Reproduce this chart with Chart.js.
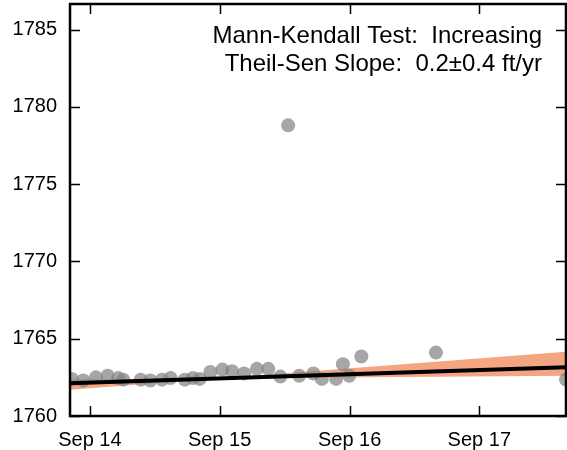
<!DOCTYPE html>
<html>
<head>
<meta charset="utf-8">
<script src="https://cdn.jsdelivr.net/npm/chart.js@4"></script>
<style>
  html, body { margin: 0; padding: 0; background: #fff; }
  #wrap { width: 567px; height: 450px; }
</style>
</head>
<body>
<div id="wrap"><canvas id="myChart" width="567" height="450"></canvas></div>
<script>
// observed water levels (ft)
const obsDates = ["2014-07-12", "2014-08-13", "2014-09-18", "2014-10-21", "2014-11-20", "2014-12-04",
  "2015-01-22", "2015-02-18", "2015-03-23", "2015-04-16", "2015-05-26", "2015-06-18", "2015-07-07",
  "2015-08-06", "2015-09-09", "2015-10-06", "2015-11-09", "2015-12-15", "2016-01-16", "2016-02-19",
  "2016-03-12", "2016-04-12", "2016-05-22", "2016-06-15", "2016-07-25", "2016-08-13", "2016-08-31",
  "2016-10-04", "2017-05-02", "2018-05-03"];
const obsLevels = [1762.4, 1762.3, 1762.5, 1762.6, 1762.45, 1762.35,
  1762.35, 1762.3, 1762.35, 1762.45, 1762.35, 1762.45, 1762.4,
  1762.85, 1763.0, 1762.9, 1762.75, 1763.05, 1763.05, 1762.55,
  1778.8, 1762.6, 1762.75, 1762.4, 1762.4, 1763.35, 1762.6,
  1763.85, 1764.1, 1762.35];

// theil-sen line and its confidence band
const trendDates = ["2014-07-07", "2018-05-03"];
const trendLevels = [1762.12, 1763.16];
const bandLow = [1762.36, 1762.6];
const bandHigh = [1761.7, 1764.15];

// axes
const xTickDates = ["2014-09-01", "2015-09-01", "2016-09-01", "2017-09-01"];
const xTickLabels = ["Sep 14", "Sep 15", "Sep 16", "Sep 17"];
const yTicks = [1760, 1765, 1770, 1775, 1780, 1785];
const xRange = ["2014-07-07", "2018-05-03"];
const yRange = [1760, 1786.65];

const noteLines = ["Mann-Kendall Test:  Increasing", "Theil-Sen Slope:  0.2\u00b10.4 ft/yr"];

function day(s) {
  const p = s.split("-");
  return Date.UTC(+p[0], +p[1] - 1, +p[2]) / 86400000;
}
function pts(dates, vals) {
  return dates.map((d, i) => ({ x: day(d), y: vals[i] }));
}

const FONT = "'Liberation Sans', Arial, sans-serif";

// frame, inward ticks and the text box
const framePlugin = {
  id: "frame",
  afterDatasetsDraw(chart) {
    const ctx = chart.ctx;
    const a = chart.chartArea;
    const xs = chart.scales.x, ys = chart.scales.y;
    ctx.save();
    ctx.strokeStyle = "#000";
    ctx.lineWidth = 1.5;
    ctx.beginPath();
    xTickDates.forEach(d => {
      const px = Math.round(xs.getPixelForValue(day(d))) + 0.5;
      ctx.moveTo(px, a.bottom); ctx.lineTo(px, a.bottom - 10);
      ctx.moveTo(px, a.top); ctx.lineTo(px, a.top + 10);
    });
    yTicks.forEach(v => {
      const py = Math.round(ys.getPixelForValue(v)) + 0.5;
      ctx.moveTo(a.left, py); ctx.lineTo(a.left + 10, py);
      ctx.moveTo(a.right, py); ctx.lineTo(a.right - 10, py);
    });
    ctx.stroke();
    ctx.lineWidth = 2.5;
    ctx.strokeRect(a.left, a.top, a.right - a.left, a.bottom - a.top);

    ctx.fillStyle = "#000";
    ctx.font = "24px " + FONT;
    ctx.textAlign = "right";
    ctx.textBaseline = "alphabetic";
    ctx.fillText(noteLines[0], 542, 42.5);
    ctx.fillText(noteLines[1], 542, 70.5);
    ctx.restore();
  }
};

const ctx = document.getElementById("myChart").getContext("2d");
new Chart(ctx, {
  type: "scatter",
  data: {
    datasets: [
      {
        type: "line",
        data: pts(trendDates, trendLevels),
        borderColor: "#000",
        borderWidth: 4,
        pointRadius: 0,
        fill: false,
        clip: 0,
        order: 0
      },
      {
        data: pts(obsDates, obsLevels),
        backgroundColor: "rgba(128,128,128,0.7)",
        borderWidth: 0,
        pointRadius: 7,
        clip: 0,
        order: 1
      },
      {
        type: "line",
        data: pts(trendDates, bandLow),
        borderWidth: 0,
        borderColor: "rgba(0,0,0,0)",
        pointRadius: 0,
        fill: false,
        clip: 0,
        order: 3
      },
      {
        type: "line",
        data: pts(trendDates, bandHigh),
        borderWidth: 0,
        borderColor: "rgba(0,0,0,0)",
        backgroundColor: "#f4a582",
        pointRadius: 0,
        fill: "-1",
        clip: 0,
        order: 2
      }
    ]
  },
  options: {
    responsive: false,
    animation: false,
    layout: { autoPadding: false, padding: { top: 4, right: 1, left: 0, bottom: 0 } },
    plugins: { legend: { display: false }, tooltip: { enabled: false } },
    scales: {
      x: {
        type: "linear",
        min: day(xRange[0]),
        max: day(xRange[1]),
        grid: { display: false, drawTicks: false },
        border: { display: false },
        afterBuildTicks: (s) => { s.ticks = xTickDates.map(d => ({ value: day(d) })); },
        afterFit: (s) => { s.height = 34; s.paddingLeft = 0; s.paddingRight = 0; },
        ticks: {
          color: "#000",
          font: { family: FONT, size: 20 },
          padding: 12,
          maxRotation: 0,
          autoSkip: false,
          callback: (v) => xTickLabels[xTickDates.findIndex(d => day(d) === v)]
        }
      },
      y: {
        min: yRange[0],
        max: yRange[1],
        grid: { display: false, drawTicks: false },
        border: { display: false },
        afterBuildTicks: (s) => { s.ticks = yTicks.map(v => ({ value: v })); },
        afterFit: (s) => { s.width = 70; s.paddingTop = 0; s.paddingBottom = 0; },
        ticks: {
          color: "#000",
          font: { family: FONT, size: 20 },
          padding: 13,
          callback: (v) => String(v)
        }
      }
    }
  },
  plugins: [framePlugin]
});
</script>
</body>
</html>
